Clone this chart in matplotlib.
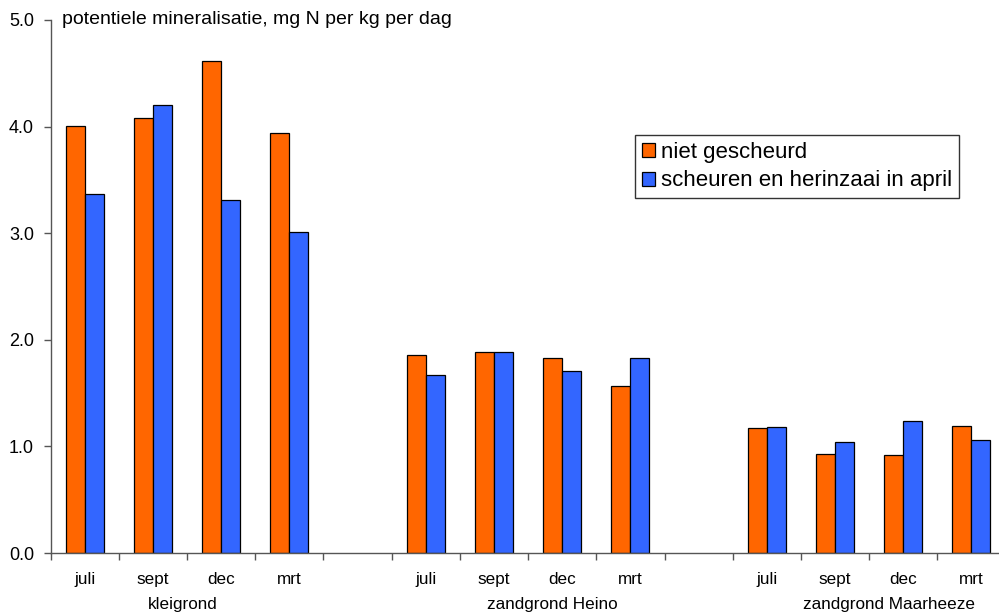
import matplotlib
matplotlib.use("Agg")
import matplotlib.pyplot as plt
import numpy as np

plt.rcParams['font.family'] = ['Liberation Sans', 'DejaVu Sans']

months = ['juli', 'sept', 'dec', 'mrt']
groups = ['kleigrond', 'zandgrond Heino', 'zandgrond Maarheeze']
niet_gescheurd = [4.01, 4.08, 4.62, 3.94,
                  1.86, 1.89, 1.83, 1.57,
                  1.17, 0.93, 0.92, 1.19]
scheuren = [3.37, 4.20, 3.31, 3.01,
            1.67, 1.89, 1.71, 1.83,
            1.18, 1.04, 1.24, 1.06]
series_labels = ['niet gescheurd', 'scheuren en herinzaai in april']
yticks = [0.0, 1.0, 2.0, 3.0, 4.0, 5.0]
title = 'potentiele mineralisatie, mg N per kg per dag'

c_orange = '#FF6600'
c_blue = '#3366FF'

W, H = 999, 615
fig = plt.figure(figsize=(W / 100, H / 100), dpi=100)
left, right, top, bottom = 50.7, 1005.5, 20.0, 553.0
ax = fig.add_axes([left / W, 1 - bottom / H, (right - left) / W, (bottom - top) / H])

# slot layout: 4 months, 1 blank, 4 months, 1 blank, 4 months
nslots = len(groups) * (len(months) + 1) - 1
slot_pos = []
month_lbl = []
for g in range(len(groups)):
    for m in range(len(months)):
        slot_pos.append(g * (len(months) + 1) + m + 0.5)
        month_lbl.append(months[m])
slot_pos = np.array(slot_pos)

bw = 0.28
ax.bar(slot_pos - bw / 2, niet_gescheurd, width=bw, color=c_orange,
       edgecolor='black', linewidth=0.9, label=series_labels[0], zorder=3)
ax.bar(slot_pos + bw / 2, scheuren, width=bw, color=c_blue,
       edgecolor='black', linewidth=0.9, label=series_labels[1], zorder=3)

ax.set_xlim(0, nslots)
ax.set_ylim(0, 5.0)

spine_col = '#555555'
for s in ['top', 'right']:
    ax.spines[s].set_visible(False)
for s in ['left', 'bottom']:
    ax.spines[s].set_color(spine_col)
    ax.spines[s].set_linewidth(1.0)
ax.spines['bottom'].set_zorder(4)

ax.set_yticks(yticks)
ax.set_yticklabels([f'{v:.1f}' for v in yticks], fontsize=13)
ax.tick_params(axis='y', direction='out', length=5, width=1, color=spine_col, pad=7)

ax.set_xticks(np.arange(0, nslots + 1))
ax.set_xticklabels([])
ax.tick_params(axis='x', which='major', direction='out', length=5, width=1, color=spine_col)
ax.set_xticks(slot_pos, minor=True)
ax.set_xticklabels(month_lbl, minor=True, fontsize=12.3)
ax.tick_params(axis='x', which='minor', length=0, pad=14)

# group labels
grp_x = [1.93, 7.35, 12.29]
for gx, gl in zip(grp_x, groups):
    ax.text(gx, -52 / 106.6, gl, ha='center', va='center', fontsize=12.3)

fig.text(62 / W, 1 - 19 / H, title, ha='left', va='center', fontsize=14)

leg = fig.legend(loc='upper left', bbox_to_anchor=(635 / W, 1 - 135 / H),
                 fontsize=16, frameon=True, fancybox=False,
                 handlelength=0.62, handleheight=0.58, handletextpad=0.25,
                 borderpad=0.3, labelspacing=0.35, borderaxespad=0)
leg.get_frame().set_edgecolor('black')
leg.get_frame().set_linewidth(1.0)

fig.savefig('out.png', dpi=100)
